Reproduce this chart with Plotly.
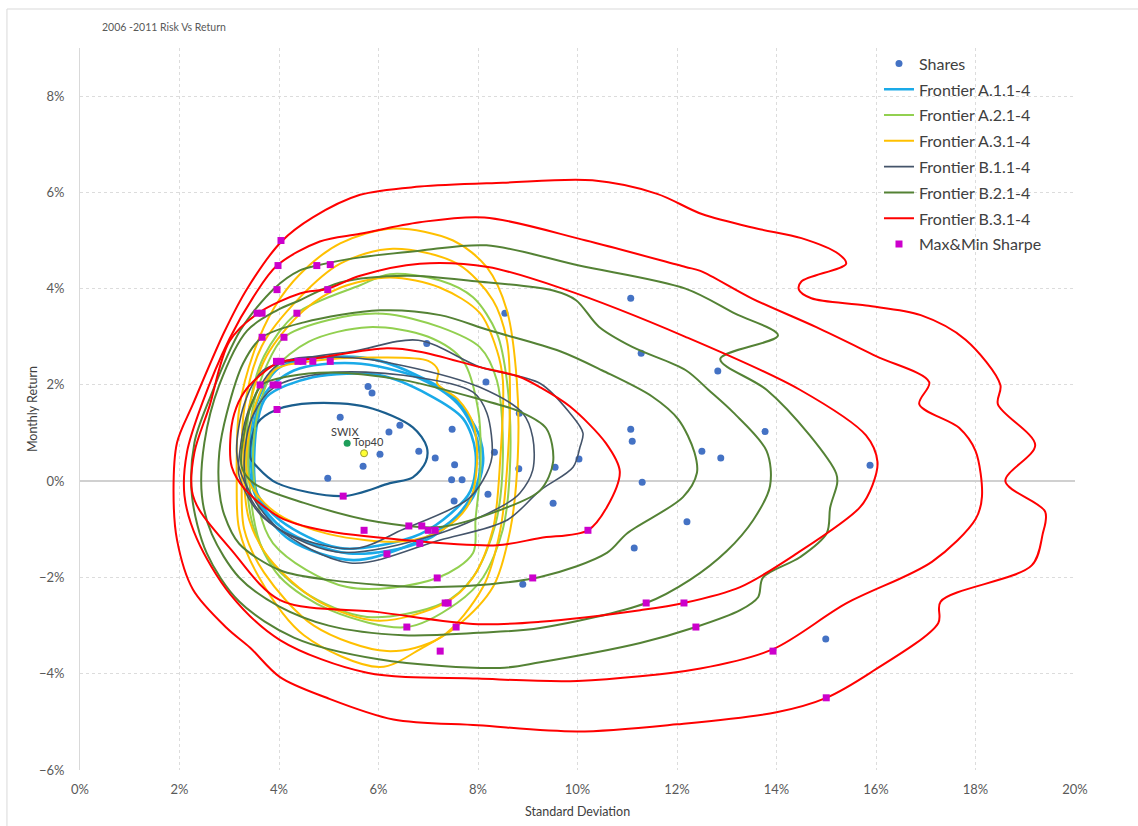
import plotly.graph_objects as go

# ---------------- data (percent) ----------------
SHARES_SD = [8.54, 6.97, 11.07, 11.28, 12.82, 8.16, 8.83, 7.48, 11.07, 11.10, 12.50, 12.88,
             13.77, 9.55, 10.03, 8.33, 6.81, 7.14, 7.53, 7.47, 7.68, 8.82, 11.30, 15.88,
             12.20, 11.14, 9.51, 8.90, 14.99, 5.79, 5.87, 5.23, 6.21, 6.43, 6.03, 5.69,
             4.98, 8.20, 7.52]
SHARES_RET = [3.49, 2.86, 3.80, 2.66, 2.29, 2.06, 1.41, 1.08, 1.08, 0.83, 0.62, 0.48,
              1.03, 0.29, 0.46, 0.60, 0.62, 0.48, 0.34, 0.03, 0.03, 0.26, -0.02, 0.33,
              -0.84, -1.39, -0.46, -2.14, -3.28, 1.97, 1.83, 1.33, 1.02, 1.16, 0.56, 0.31,
              0.06, -0.27, -0.41]

INDEX_NAMES = ["SWIX", "Top40"]
INDEX_SD = [5.37, 5.71]
INDEX_RET = [0.79, 0.58]

SHARPE_SD = [4.04, 3.98, 4.76, 5.03, 3.96, 4.98, 3.56, 3.66, 4.36, 3.66, 4.10, 3.95, 4.04,
             4.38, 4.48, 4.68, 5.03, 3.62, 3.88, 3.98, 3.96, 5.29, 5.71, 6.61, 6.87, 7.00,
             7.14, 6.83, 6.17, 7.18, 7.34, 7.40, 6.57, 7.56, 7.24, 9.10, 10.21, 11.38,
             12.14, 12.38, 13.93, 15.00]
SHARPE_RET = [5.00, 4.48, 4.48, 4.50, 3.98, 3.98, 3.49, 3.49, 3.49, 2.99, 2.99, 2.49, 2.49,
              2.49, 2.49, 2.49, 2.49, 2.00, 2.00, 2.00, 1.49, -0.31, -1.02, -0.93, -0.93, -1.02,
              -1.02, -1.29, -1.51, -2.01, -2.53, -2.53, -3.03, -3.03, -3.53, -2.01, -1.02, -2.53,
              -2.53, -3.03, -3.53, -4.50]

# frontier curves: (standard deviation %, monthly return %)
A1_1 = [(3.40, 0.2), (3.45, 1.2), (3.62, 1.8), (4.02, 2.37), (5.03, 2.58), (6.03, 2.5), (7.38, 1.85),
        (7.78, 1.4), (8.04, 0.9), (8.10, 0.37), (7.90, -0.33), (7.44, -0.85), (6.69, -1.3),
        (5.49, -1.64), (4.22, -1.22), (3.62, -0.5), (3.40, 0.2)]
A1_2 = [(3.45, 0.2), (3.50, 1.2), (3.70, 1.8), (4.30, 2.3), (5.50, 2.45), (6.80, 2.15), (7.60, 1.6),
        (8.00, 0.8), (8.00, 0.0), (7.60, -0.7), (6.90, -1.25), (5.40, -1.5), (4.10, -1.0),
        (3.60, -0.4), (3.45, 0.2)]
A1_3 = [(3.50, 0.2), (3.56, 1.2), (3.75, 1.75), (4.68, 2.16), (6.03, 2.2), (7.00, 1.8), (7.70, 1.3),
        (7.95, 0.6), (7.85, -0.2), (7.30, -0.8), (6.69, -1.16), (5.23, -1.39), (4.02, -0.81),
        (3.56, -0.25), (3.50, 0.2)]
A1_4 = [(3.42, 0.5), (3.56, 1.2), (3.96, 1.49), (4.68, 1.62), (5.77, 1.54), (6.69, 1.12),
        (6.97, 0.71), (6.95, 0.4), (6.69, 0.08), (6.23, -0.04), (5.29, -0.31), (3.96, -0.04),
        (3.56, 0.3), (3.42, 0.5)]

A2_1 = [(3.35, 0.0), (3.40, 1.5), (3.70, 2.6), (4.36, 3.49), (5.63, 4.07), (6.23, 4.3), (7.24, 4.17),
        (7.90, 3.82), (8.38, 3.07), (8.58, 2.09), (8.65, 0.5), (8.50, -1.0), (8.10, -2.0),
        (7.58, -2.53), (6.57, -3.03), (5.03, -2.68), (4.02, -1.99), (3.50, -1.0), (3.35, 0.0)]
A2_2 = [(3.40, 0.0), (3.45, 1.4), (3.75, 2.4), (4.10, 2.99), (5.00, 3.35), (6.09, 3.48), (7.24, 3.2),
        (8.04, 2.78), (8.38, 2.09), (8.50, 0.5), (8.35, -0.9), (7.90, -1.99), (7.30, -2.53),
        (5.77, -2.82), (4.50, -2.3), (3.68, -1.43), (3.40, 0.0)]
A2_3 = [(3.50, 0.0), (3.55, 1.3), (3.90, 2.3), (4.60, 2.9), (5.80, 3.2), (7.00, 3.0), (7.70, 2.5),
        (8.00, 1.5), (8.05, 0.3), (7.95, -0.8), (7.90, -1.49), (7.18, -2.01), (5.37, -2.2),
        (3.88, -1.29), (3.50, 0.0)]

A3_1 = [(3.15, 0.0), (3.20, 1.5), (3.50, 2.7), (3.90, 3.6), (4.42, 4.3), (5.23, 4.94), (6.30, 5.25),
        (7.50, 5.0), (8.18, 4.44), (8.58, 3.55), (8.78, 2.09), (8.80, 0.5), (8.65, -1.0),
        (8.30, -2.2), (7.56, -3.03), (6.90, -3.45), (6.03, -3.86), (4.50, -3.2), (3.60, -2.0),
        (3.20, -1.0), (3.15, 0.0)]
A3_2 = [(3.25, 0.0), (3.30, 1.5), (3.65, 2.8), (4.42, 3.82), (5.23, 4.52), (6.29, 4.83), (7.58, 4.52),
        (8.30, 3.76), (8.58, 2.93), (8.64, 2.09), (8.60, 0.5), (8.45, -1.0), (8.10, -2.2),
        (7.24, -3.25), (6.17, -3.53), (4.70, -3.0), (3.70, -1.9), (3.30, -1.0), (3.25, 0.0)]
A3_3 = [(3.30, 0.0), (3.35, 1.3), (3.75, 2.6), (4.50, 3.55), (5.23, 4.02), (6.23, 4.23), (7.24, 4.02),
        (8.04, 3.49), (8.38, 2.72), (8.50, 2.09), (8.45, 0.5), (8.30, -1.0), (7.90, -2.0),
        (7.34, -2.53), (6.00, -2.9), (4.80, -2.5), (3.80, -1.6), (3.40, -0.8), (3.30, 0.0)]
A3_4 = [(3.35, 0.2), (3.50, 1.5), (3.90, 2.3), (4.70, 2.5), (6.03, 2.57), (7.00, 2.5), (7.20, 2.3),
        (7.18, 2.03), (7.60, 1.7), (7.90, 1.2), (7.98, 0.37), (7.80, -0.5), (7.30, -1.0),
        (6.50, -1.25), (5.00, -1.1), (4.00, -0.7), (3.50, -0.2), (3.35, 0.2)]

B1_1 = [(3.15, 0.6), (3.30, 1.6), (3.68, 2.3), (4.50, 2.55), (5.50, 2.7), (6.80, 2.93), (8.04, 2.37),
        (9.25, 2.03), (9.85, 1.41), (10.11, 1.0), (10.05, 0.71), (9.91, 0.29), (9.25, -0.19),
        (8.58, -0.81), (7.24, -1.22), (5.43, -1.7), (3.95, -0.95), (3.30, 0.0), (3.15, 0.6)]
B1_2 = [(3.20, 0.5), (3.40, 1.5), (4.02, 2.45), (5.37, 2.57), (6.50, 2.4), (8.04, 1.95), (8.90, 1.41),
        (9.10, 0.91), (9.10, 0.23), (8.84, -0.25), (8.58, -0.46), (7.24, -1.08), (5.16, -1.47),
        (3.68, -0.75), (3.20, 0.1), (3.20, 0.5)]
B1_3 = [(3.30, 0.4), (3.45, 1.3), (3.90, 1.95), (5.00, 2.25), (6.50, 2.2), (7.90, 1.85), (8.18, 1.41),
        (8.28, 0.5), (8.10, 0.02), (7.78, -0.39), (6.50, -1.0), (5.50, -1.4), (4.00, -1.0),
        (3.40, -0.3), (3.30, 0.4)]

B2_1 = [(2.25, -0.3), (2.30, 0.8), (2.60, 1.7), (3.22, 3.13), (3.90, 4.0), (4.42, 4.38), (4.76, 4.48),
        (5.63, 4.65), (6.83, 4.79), (8.17, 4.9), (10.03, 4.48), (12.17, 4.0), (13.17, 3.48),
        (14.03, 3.03), (12.87, 2.54), (13.80, 1.9), (14.67, 0.95), (15.20, 0.16), (15.22, -0.04),
        (15.08, -0.54), (15.01, -1.08), (14.47, -1.58), (13.73, -2.0), (13.63, -2.41),
        (13.27, -2.68), (12.38, -3.03), (11.26, -3.36), (9.25, -3.76), (8.44, -3.88),
        (6.00, -3.7), (4.30, -3.25), (3.20, -2.5), (2.55, -1.5), (2.25, -0.3)]
B2_2 = [(2.45, -0.3), (2.50, 0.8), (2.80, 2.0), (3.36, 3.13), (3.96, 3.55), (4.42, 3.76), (5.23, 4.13),
        (6.57, 4.27), (8.00, 4.15), (9.51, 3.96), (9.97, 3.76), (10.43, 3.21), (11.10, 2.79),
        (12.17, 2.31), (12.63, 1.9), (13.13, 1.43), (13.80, 0.63), (13.87, -0.1), (13.53, -0.81),
        (13.00, -1.45), (12.26, -2.05), (11.38, -2.53), (9.25, -3.05), (8.00, -3.15),
        (6.50, -3.2), (5.00, -3.0), (4.00, -2.6), (3.20, -2.0), (2.65, -1.1), (2.45, -0.3)]
B2_3 = [(2.80, -0.2), (2.80, 0.6), (2.95, 1.41), (3.28, 2.45), (3.66, 2.99), (4.50, 3.3), (6.03, 3.55),
        (7.24, 3.45), (8.24, 3.13), (9.65, 2.7), (10.50, 2.3), (11.50, 1.76), (12.03, 1.28),
        (12.35, 0.6), (12.40, 0.17), (12.12, -0.33), (11.00, -1.08), (10.59, -1.49),
        (9.25, -1.99), (7.18, -2.2), (5.00, -2.05), (4.02, -1.85), (3.20, -1.3), (2.90, -0.7),
        (2.80, -0.2)]
B2_4 = [(3.25, 0.3), (3.30, 1.0), (3.45, 1.6), (3.65, 2.0), (4.20, 2.18), (5.03, 2.26), (6.50, 2.1),
        (8.04, 1.7), (8.83, 1.45), (9.37, 1.1), (9.51, 0.4), (9.25, -0.19), (8.44, -0.6),
        (7.24, -0.95), (6.00, -0.85), (4.50, -0.45), (3.50, -0.05), (3.25, 0.3)]

B3_1 = [(1.88, -0.2), (1.95, 0.8), (2.27, 1.6), (2.90, 3.1), (3.36, 4.0), (4.05, 4.98), (4.68, 5.48),
        (5.63, 5.95), (6.83, 6.12), (8.50, 6.2), (10.30, 6.25), (11.60, 5.97), (12.50, 5.55),
        (13.60, 5.25), (14.50, 5.05), (15.25, 4.72), (15.40, 4.52), (14.50, 4.15), (14.45, 3.98),
        (14.70, 3.8), (15.80, 3.65), (16.90, 3.45), (17.80, 2.94), (18.50, 2.0), (18.45, 1.6),
        (19.20, 0.75), (18.60, 0.0), (19.40, -0.63), (19.35, -1.1), (19.13, -1.75),
        (17.30, -2.5), (17.25, -2.95), (15.90, -3.97), (15.00, -4.5), (14.00, -4.8),
        (12.00, -5.05), (10.00, -5.2), (8.00, -5.07), (6.30, -4.95), (4.96, -4.5), (4.02, -4.07),
        (3.42, -3.46), (2.95, -3.05), (2.27, -2.25), (1.95, -1.22), (1.88, -0.2)]
B3_2 = [(2.10, -0.3), (2.15, 0.6), (2.45, 1.6), (3.00, 2.95), (3.48, 3.82), (3.96, 4.48), (4.82, 4.98),
        (5.63, 5.14), (6.83, 5.38), (8.13, 5.48), (10.17, 5.0), (12.17, 4.45), (12.47, 4.37),
        (13.50, 3.8), (14.80, 3.2), (16.00, 2.6), (17.07, 2.06), (16.87, 1.6), (17.67, 1.11),
        (18.00, 0.63), (18.13, -0.32), (18.00, -0.79), (17.13, -1.67), (15.40, -2.54),
        (13.93, -3.49), (12.47, -3.89), (10.00, -4.15), (8.00, -4.1), (5.77, -3.98),
        (4.02, -3.3), (3.02, -2.35), (2.35, -1.2), (2.10, -0.3)]
B3_3 = [(2.25, -0.2), (2.30, 0.6), (2.60, 1.55), (3.00, 2.9), (3.58, 3.49), (4.42, 3.9), (4.98, 4.0),
        (5.63, 4.27), (6.83, 4.52), (8.20, 4.45), (9.70, 4.0), (12.17, 3.0), (14.47, 1.9),
        (15.80, 0.95), (16.03, 0.4), (15.93, -0.08), (15.68, -0.54), (14.41, -1.5), (13.27, -2.2),
        (12.14, -2.53), (11.26, -2.68), (9.25, -2.92), (8.00, -2.97), (6.00, -2.72),
        (4.02, -2.47), (3.02, -1.4), (2.40, -0.6), (2.25, -0.2)]
B3_4 = [(3.05, 0.3), (3.02, 0.85), (3.10, 1.4), (3.30, 1.85), (3.62, 2.2), (4.00, 2.47), (4.70, 2.55),
        (6.17, 2.76), (6.83, 2.69), (8.04, 2.37), (8.83, 2.17), (9.25, 1.95), (9.85, 1.55),
        (10.57, 0.79), (10.85, 0.2), (10.59, -0.54), (10.21, -1.02), (9.25, -1.18),
        (8.38, -1.33), (6.50, -1.22), (4.88, -1.02), (4.02, -0.75), (3.30, -0.15), (3.05, 0.3)]

SERIES = [
    ("Frontier A.1.1-4", "#1AAAE8", 2.6, [A1_1, A1_2, A1_3]),
    ("Frontier A.2.1-4", "#92D050", 2.0, [A2_1, A2_2, A2_3]),
    ("Frontier A.3.1-4", "#FFC000", 2.0, [A3_1, A3_2, A3_3, A3_4]),
    ("Frontier B.1.1-4", "#44546A", 1.6, [B1_1, B1_2, B1_3]),
    ("Frontier B.2.1-4", "#548235", 2.0, [B2_1, B2_2, B2_3, B2_4]),
    ("Frontier B.3.1-4", "#FF0000", 2.0, [B3_1, B3_2, B3_3, B3_4]),
]
INNER_LOOP_COLOR = "#1B5E8E"


def pct(values):
    return [v / 100 for v in values]


fig = go.Figure()

fig.add_trace(go.Scatter(
    x=pct(SHARES_SD), y=pct(SHARES_RET), mode="markers", name="Shares",
    marker=dict(color="#4472C4", size=7), legendgroup="shares"))

for name, color, width, curves in SERIES:
    for i, curve in enumerate(curves):
        fig.add_trace(go.Scatter(
            x=pct([p[0] for p in curve]), y=pct([p[1] for p in curve]),
            mode="lines", name=name, legendgroup=name, showlegend=(i == 0),
            line=dict(color=color, width=width, shape="spline", smoothing=0.9),
            hoverinfo="skip"))
    if name.startswith("Frontier A.1"):
        # innermost A.1 frontier, drawn in a darker blue
        fig.add_trace(go.Scatter(
            x=pct([p[0] for p in A1_4]), y=pct([p[1] for p in A1_4]),
            mode="lines", name=name, legendgroup=name, showlegend=False,
            line=dict(color=INNER_LOOP_COLOR, width=2.2, shape="spline", smoothing=0.9)))

fig.add_trace(go.Scatter(
    x=pct(INDEX_SD[:1]), y=pct(INDEX_RET[:1]), mode="markers", showlegend=False,
    marker=dict(color="#1E9E5A", size=7)))
fig.add_trace(go.Scatter(
    x=pct(INDEX_SD[1:]), y=pct(INDEX_RET[1:]), mode="markers", showlegend=False,
    marker=dict(color="#FFFF33", size=7, line=dict(color="#9A9A30", width=1))))

fig.add_trace(go.Scatter(
    x=pct(SHARPE_SD), y=pct(SHARPE_RET), mode="markers", name="Max&Min Sharpe",
    marker=dict(color="#CC00CC", size=7, symbol="square"), legendgroup="sharpe"))

# index labels
fig.add_annotation(x=INDEX_SD[0] / 100, y=INDEX_RET[0] / 100, text=INDEX_NAMES[0],
                   showarrow=False, xanchor="center", yanchor="bottom", yshift=3, xshift=-2,
                   font=dict(size=11, color="#404040"))
fig.add_annotation(x=INDEX_SD[1] / 100, y=INDEX_RET[1] / 100, text=INDEX_NAMES[1],
                   showarrow=False, xanchor="left", yanchor="bottom", yshift=3, xshift=-13,
                   font=dict(size=11, color="#404040"))

# chart title
fig.add_annotation(xref="paper", yref="paper", x=0.020, y=1.029, text="2006 -2011 Risk Vs Return",
                   showarrow=False, xanchor="left", yanchor="middle",
                   font=dict(size=10.5, color="#595959"))

# axis titles
fig.add_annotation(xref="paper", yref="paper", x=-0.0482, y=0.5, text="Monthly Return",
                   textangle=-90, showarrow=False, xanchor="center", yanchor="middle",
                   font=dict(size=12.5, color="#404040"))
fig.add_annotation(xref="paper", yref="paper", x=0.5, y=-0.0568, text="Standard Deviation",
                   showarrow=False, xanchor="center", yanchor="middle",
                   font=dict(size=12.5, color="#404040"))

# outer frame of the chart area
fig.add_shape(type="rect", xref="paper", yref="paper", x0=-0.0734, x1=1.2, y0=-0.2, y1=1.054,
              line=dict(color="#D9D9D9", width=1), fillcolor="rgba(0,0,0,0)", layer="below")

fig.update_layout(
    width=1138, height=826,
    margin=dict(l=80, r=63, t=48, b=56),
    paper_bgcolor="white", plot_bgcolor="white",
    font=dict(family="Lato, Open Sans, sans-serif", color="#404040"),
    legend=dict(x=0.803, y=1.002, xanchor="left", yanchor="top", bgcolor="rgba(0,0,0,0)",
                font=dict(size=16, color="#404040"), tracegroupgap=2, itemwidth=30),
    xaxis=dict(range=[0, 0.2], dtick=0.02, tick0=0, tickformat=".0%",
               showgrid=True, gridcolor="#DCDCDC", griddash="3px,3px", gridwidth=1,
               zeroline=False, showline=False, ticks="",
               tickfont=dict(size=13, color="#595959"), ticklabelstandoff=10),
    yaxis=dict(range=[-0.06, 0.09], dtick=0.02, tick0=0, tickformat=".0%",
               showgrid=True, gridcolor="#DCDCDC", griddash="3px,3px", gridwidth=1,
               zeroline=True, zerolinecolor="#D0D0D0", zerolinewidth=1.5,
               showline=True, linecolor="#D9D9D9", linewidth=1, ticks="",
               tickfont=dict(size=13, color="#595959"), ticklabelstandoff=12),
)

fig.write_html("out.html")
